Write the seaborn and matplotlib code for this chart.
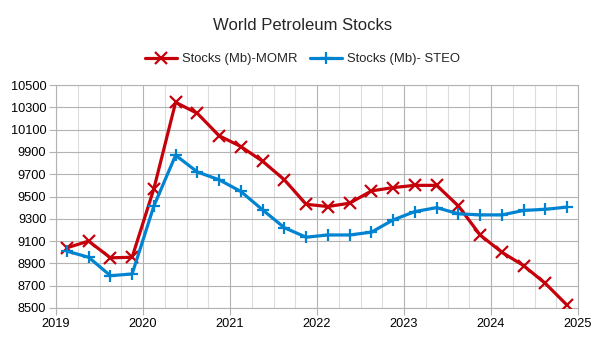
import matplotlib
matplotlib.use("Agg")
import matplotlib.pyplot as plt
from matplotlib.ticker import MultipleLocator
import seaborn as sns

# Quarterly world petroleum stocks (million barrels)
quarters = [f"{y}Q{q}" for y in range(2019, 2025) for q in range(1, 5)]
momr = [9040, 9100, 8950, 8955, 9570, 10345, 10245, 10045, 9948, 9816, 9650, 9430,
        9410, 9440, 9550, 9580, 9600, 9600, 9415, 9155, 9000, 8880, 8720, 8525]
steo = [9010, 8955, 8790, 8805, 9415, 9870, 9720, 9650, 9545, 9380, 9220, 9135,
        9155, 9155, 9180, 9290, 9365, 9400, 9345, 9335, 9335, 9375, 9385, 9405]
series_names = ["Stocks (Mb)-MOMR", "Stocks (Mb)- STEO"]
year_ticks = list(range(2019, 2026))
stock_ticks = list(range(8500, 10501, 200))


def mid_quarter(label):
    year, q = label.split("Q")
    return int(year) + (int(q) - 0.5) / 4


x = [mid_quarter(q) for q in quarters]

sns.set_theme(style="white")
plt.rcParams["font.family"] = ["Liberation Sans", "DejaVu Sans"]

fig = plt.figure(figsize=(6.05, 3.4), dpi=100)
ax = fig.add_axes([56 / 605, 1 - 308 / 340, (578 - 56) / 605, (308 - 85) / 340])

red, blue = "#c5000b", "#0084d1"
sns.lineplot(x=x, y=momr, color=red, marker="x", markersize=8,
             markeredgewidth=1.6, markeredgecolor=red, linewidth=2.3,
             linestyle="-", label=series_names[0], ax=ax, zorder=3)
sns.lineplot(x=x, y=steo, color=blue, marker="+", markersize=9,
             markeredgewidth=1.6, markeredgecolor=blue, linewidth=2.3,
             linestyle="-", label=series_names[1], ax=ax, zorder=3)

ax.set_xlim(2019, 2025)
ax.set_ylim(8500, 10500)
ax.set_xticks(year_ticks)
ax.set_xticklabels([str(y) for y in year_ticks])
ax.xaxis.set_minor_locator(MultipleLocator(0.25))
ax.set_yticks(stock_ticks)
ax.set_yticklabels([str(v) for v in stock_ticks])

ax.grid(which="major", color="#b3b3b3", linewidth=0.8)
ax.grid(which="minor", axis="x", color="#dddddd", linewidth=0.8)
ax.set_axisbelow(True)
for s in ax.spines.values():
    s.set_color("#b3b3b3")
    s.set_linewidth(0.8)

ax.tick_params(axis="both", which="major", labelsize=9.2, colors="#b3b3b3",
               labelcolor="#000000", length=5, width=0.8, pad=2)
ax.tick_params(axis="x", which="minor", length=0)
ax.tick_params(axis="y", which="major", left=True)
ax.tick_params(axis="x", which="major", bottom=True)
ax.set_xlabel("")
ax.set_ylabel("")

handles, labels = ax.get_legend_handles_labels()
ax.legend(handles, labels, loc="center", bbox_to_anchor=(0.5, 1 - 59 / 340),
          bbox_transform=fig.transFigure, ncol=2, frameon=False, fontsize=9.4,
          handlelength=2.4, columnspacing=1.0, handletextpad=0.4)

fig.suptitle("World Petroleum Stocks", y=1 - 25 / 340, va="center", fontsize=12)

fig.savefig("out.png", dpi=100, facecolor="white")
